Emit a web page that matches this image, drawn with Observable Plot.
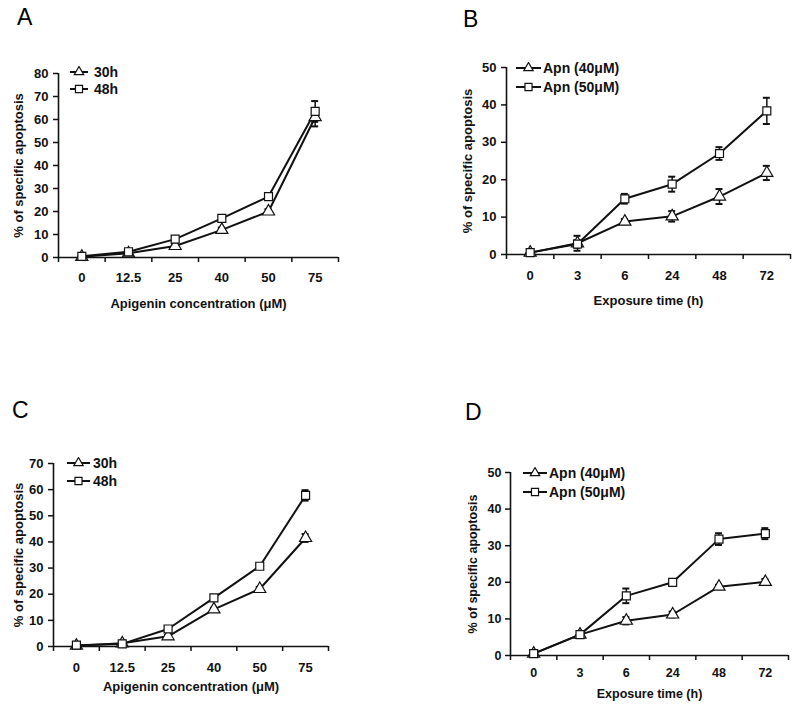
<!DOCTYPE html>
<html><head><meta charset="utf-8">
<script src="https://cdn.jsdelivr.net/npm/d3@7"></script>
<script src="https://cdn.jsdelivr.net/npm/@observablehq/plot@0.6"></script>
<style>
body{margin:0;background:#fff;font-family:"Liberation Sans",Arial,sans-serif;}
#root{position:relative;width:800px;height:705px;overflow:hidden;background:#fff;}
.panel{position:absolute;}
.letter{position:absolute;font-size:23px;line-height:1;color:#000;}
.legend{position:absolute;font-weight:bold;font-size:14px;color:#111;}
.legend .row{display:flex;align-items:center;}
.legend svg{display:block;}
</style></head><body><div id="root"></div>
<script>
// ---- data ----
const concLabels = ["0", "12.5", "25", "40", "50", "75"];
const timeLabels = ["0", "3", "6", "24", "48", "72"];

const aSeries = ["30h", "48h"];
const a30 = [0.3, 1.8, 5, 12, 20, 61];
const a30Err = [0, 0.4, 0.8, 1, 1, 4];
const a48 = [0.5, 2.5, 8, 17, 26.5, 63.5];
const a48Err = [0.3, 0.5, 0.8, 1, 1.5, 4.5];

const bSeries = ["Apn (40μM)", "Apn (50μM)"];
const b40 = [0.5, 3, 8.8, 10.2, 15.5, 21.8];
const b40Err = [0.2, 2, 0.7, 1.4, 2, 1.9];
const b50 = [0.5, 2.8, 14.9, 18.8, 27, 38.4];
const b50Err = [0.2, 1, 1.3, 2, 1.7, 3.5];

const cSeries = ["30h", "48h"];
const c30 = [0.3, 1.2, 3.9, 14.2, 22, 41.5];
const c30Err = [0.2, 0.3, 0.5, 0.6, 0.8, 1.5];
const c48 = [0.5, 1, 6.7, 18.6, 30.7, 57.8];
const c48Err = [0.2, 0.3, 0.5, 0.6, 0.8, 2];

const dSeries = ["Apn (40μM)", "Apn (50μM)"];
const d40 = [0.5, 5.7, 9.5, 11.2, 18.8, 20.1];
const d40Err = [0.2, 0.3, 1, 0.8, 0.5, 0.8];
const d50 = [0.5, 5.7, 16.3, 20, 31.8, 33.3];
const d50Err = [0.2, 0.3, 2, 0.5, 1.6, 1.5];

const yTicksA = [0, 10, 20, 30, 40, 50, 60, 70, 80];
const yTicksB = [0, 10, 20, 30, 40, 50];
const yTicksC = [0, 10, 20, 30, 40, 50, 60, 70];
const yTicksD = [0, 10, 20, 30, 40, 50];

const yTitle = "% of specific apoptosis";
const xTitleConc = "Apigenin concentration (μM)";
const xTitleTime = "Exposure time (h)";
const symbols = ["triangle", "square"];

// ---- layout ----
const panels = [
  {letter: "A", cats: concLabels, names: aSeries, vals: [a30, a48], errs: [a30Err, a48Err], yTicks: yTicksA, xTitle: xTitleConc,
   left: 0, top: 0, w: 400, h: 330, mL: 58, mR: 62, mT: 73, mB: 73, xPad: 15, yPad: 5, xLab: 50, yLab: 45, fs: 13,
   letterPos: [17, 5.5], legend: {left: 70, top: 63, row: 17, sym: 18, gap: 6}},
  {letter: "B", cats: timeLabels, names: bSeries, vals: [b40, b50], errs: [b40Err, b50Err], yTicks: yTicksB, xTitle: xTitleTime,
   left: 400, top: 0, w: 400, h: 330, mL: 106, mR: 10, mT: 67, mB: 76, xPad: 16, yPad: 5, xLab: 50, yLab: 44, fs: 13,
   letterPos: [463, 7.5], legend: {left: 516, top: 58.5, row: 19, sym: 25, gap: 2}},
  {letter: "C", cats: concLabels, names: cSeries, vals: [c30, c48], errs: [c30Err, c48Err], yTicks: yTicksC, xTitle: xTitleConc,
   left: 0, top: 360, w: 400, h: 345, mL: 53, mR: 72, mT: 103, mB: 59, xPad: 16, yPad: 5, xLab: 44, yLab: 40, fs: 13,
   letterPos: [12, 398.5], legend: {left: 67, top: 454, row: 18, sym: 23, gap: 3}},
  {letter: "D", cats: timeLabels, names: dSeries, vals: [d40, d50], errs: [d40Err, d50Err], yTicks: yTicksD, xTitle: xTitleTime,
   left: 400, top: 360, w: 400, h: 345, mL: 110, mR: 12, mT: 112, mB: 50, xPad: 13, yPad: 4, xLab: 42, yLab: 42, fs: 12.5,
   letterPos: [465, 400.5], legend: {left: 523, top: 463.5, row: 19, sym: 24, gap: 2}}
];

const root = document.getElementById("root");
const INK = "#111";
const R = 4.5;

function symbolPath(name) {
  const t = name === "triangle" ? d3.symbolTriangle2 : d3.symbolSquare2;
  return d3.symbol().type(t).size(Math.PI * R * R)();
}

for (const p of panels) {
  const n = p.cats.length;
  const idx = d3.range(n);
  const bounds = d3.range(n + 1).map(k => k - 0.5);
  const seriesRows = p.vals.map((vals, s) => vals.map((v, i) => ({i, v, e: p.errs[s][i], name: p.names[s]})));
  const all = seriesRows.flat();
  const withErr = all.filter(d => d.e > 0);

  const marks = [
    Plot.ruleX(withErr, {x: "i", y1: d => Math.max(0, d.v - d.e), y2: d => d.v + d.e, stroke: INK, strokeWidth: 1.5}),
    Plot.ruleY(withErr, {x1: "i", x2: "i", y: d => d.v + d.e, insetLeft: -3.5, insetRight: -3.5, stroke: INK, strokeWidth: 2}),
    Plot.ruleY(withErr.filter(d => d.v - d.e > 0), {x1: "i", x2: "i", y: d => d.v - d.e, insetLeft: -3.5, insetRight: -3.5, stroke: INK, strokeWidth: 2}),
    Plot.ruleY([0], {stroke: INK, strokeWidth: 1.6}),
    Plot.ruleX([-0.5], {stroke: INK, strokeWidth: 1.6}),
    Plot.axisX({ticks: bounds, tickSize: 5, tickFormat: () => "", label: null, stroke: INK, strokeWidth: 1.5}),
    Plot.axisX({ticks: idx, tickSize: 0, tickPadding: p.xPad, tickFormat: i => p.cats[i], label: p.xTitle,
      labelAnchor: "center", labelArrow: "none", labelOffset: p.xLab, fill: INK}),
    Plot.axisY({ticks: p.yTicks, tickSize: 5, tickPadding: p.yPad, tickFormat: d => String(d), label: yTitle,
      labelAnchor: "center", labelArrow: "none", labelOffset: p.yLab, stroke: INK, strokeWidth: 1.5, fill: INK})
  ];
  seriesRows.forEach(rows => marks.push(Plot.line(rows, {x: "i", y: "v", stroke: INK, strokeWidth: 2})));
  seriesRows.forEach((rows, s) => marks.push(Plot.dot(rows, {x: "i", y: "v", symbol: symbols[s], r: R, fill: "white", stroke: INK, strokeWidth: 1.2})));

  const chart = Plot.plot({
    width: p.w, height: p.h,
    marginLeft: p.mL, marginRight: p.mR, marginTop: p.mT, marginBottom: p.mB,
    style: {fontFamily: "'Liberation Sans', Arial, sans-serif", fontSize: p.fs + "px", fontWeight: "bold", color: INK, background: "transparent", overflow: "visible"},
    x: {domain: [-0.5, n - 0.5]},
    y: {domain: [0, d3.max(p.yTicks)]},
    marks
  });
  const holder = document.createElement("div");
  holder.className = "panel";
  holder.style.left = p.left + "px";
  holder.style.top = p.top + "px";
  holder.appendChild(chart);
  root.appendChild(holder);

  const letter = document.createElement("div");
  letter.className = "letter";
  letter.textContent = p.letter;
  letter.style.left = p.letterPos[0] + "px";
  letter.style.top = p.letterPos[1] + "px";
  root.appendChild(letter);

  const lg = document.createElement("div");
  lg.className = "legend";
  lg.style.left = p.legend.left + "px";
  lg.style.top = p.legend.top + "px";
  p.names.forEach((name, s) => {
    const row = document.createElement("div");
    row.className = "row";
    row.style.height = p.legend.row + "px";
    const w = p.legend.sym;
    const svg = d3.create("svg").attr("width", w).attr("height", 12).style("margin-right", p.legend.gap + "px");
    svg.append("line").attr("x1", 0).attr("x2", w).attr("y1", 6).attr("y2", 6).attr("stroke", INK).attr("stroke-width", 2);
    svg.append("path").attr("d", symbolPath(symbols[s])).attr("transform", `translate(${w / 2},6)`)
      .attr("fill", "white").attr("stroke", INK).attr("stroke-width", 1.2);
    row.appendChild(svg.node());
    const span = document.createElement("span");
    span.textContent = name;
    row.appendChild(span);
    lg.appendChild(row);
  });
  root.appendChild(lg);
}
</script>
</body></html>
